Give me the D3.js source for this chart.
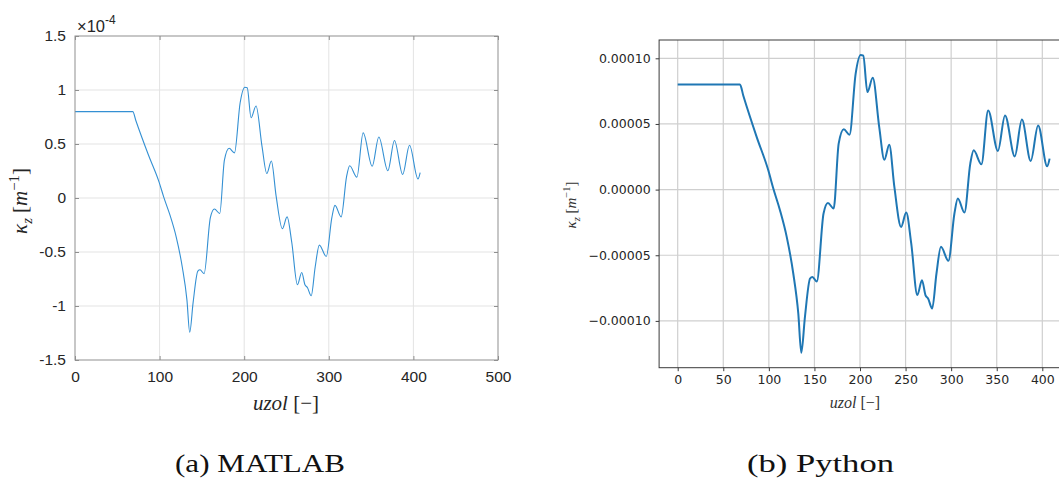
<!DOCTYPE html>
<html>
<head>
<meta charset="utf-8">
<script src="https://cdn.jsdelivr.net/npm/d3@7"></script>
<style>
  body { margin: 0; background: #fff; }
  svg { display: block; }
</style>
</head>
<body>
<script>
// curvature samples, kappa in units of 1e-5 m^-1
const uzol = [0, 68.3, 72, 86.7, 99.4, 104.9, 112.2, 119.6, 126.8, 132.3, 135.6,
  139.6, 145.2, 147.8, 152.6, 160.0, 164.8, 171.1, 176.6, 182.2, 188.5, 195.2,
  200.7, 203.6, 208.1, 214.0, 221.1, 226.7, 232.1, 237.7, 245.1, 250.7, 256.2,
  262.9, 268.0, 271.8, 274.7, 279.2, 283.9, 288.8, 297.0, 303.6, 307.3, 314.6,
  321.0, 324.7, 333.2, 340.6, 351.3, 359.1, 369.8, 377.6, 387.3, 395.4, 405.4, 408.0];
const kappa = [8.0, 8.0, 7.15, 4.0, 1.47, 0.08, -1.57, -3.6, -6.39, -9.43, -12.43,
  -9.69, -6.77, -6.65, -7.0, -1.82, -1.02, -1.44, 3.5, 4.6, 4.18, 8.82,
  10.26, 10.2, 7.43, 8.52, 4.76, 2.27, 3.42, 0.2, -2.84, -1.75, -4.1,
  -8.03, -6.9, -8.03, -8.29, -9.05, -6.39, -4.36, -5.42, -1.82, -0.68, -1.75,
  1.98, 2.99, 1.93, 6.03, 2.94, 5.65, 2.53, 5.33, 2.18, 4.89, 1.77, 2.36];

const matlabXTicks = [0, 100, 200, 300, 400, 500];
const matlabYTicks = [-1.5, -1, -0.5, 0, 0.5, 1, 1.5];
const pyXTicks = [0, 50, 100, 150, 200, 250, 300, 350, 400];
const pyYTicks = [-10, -5, 0, 5, 10];
const pyYLabels = ["\u22120.00010", "\u22120.00005", "0.00000", "0.00005", "0.00010"];
const captions = ["(a) MATLAB", "(b) Python"];

const data = uzol.map((u, i) => ({x: u, k: kappa[i]}));

const svg = d3.select("body").append("svg")
    .attr("width", 1059)
    .attr("height", 481);

// ---------- (a) MATLAB ----------
const mx = d3.scaleLinear().domain([0, 500]).range([75, 498]);
const my = d3.scaleLinear().domain([-1.5, 1.5]).range([360, 36]);  // units of 1e-4

const ma = svg.append("g");

ma.append("g").selectAll("line.gx")
    .data(matlabXTicks.slice(1, -1))
    .join("line")
    .attr("x1", d => mx(d)).attr("x2", d => mx(d))
    .attr("y1", 36).attr("y2", 360)
    .attr("stroke", "#e3e3e3").attr("stroke-width", 1);
ma.append("g").selectAll("line.gy")
    .data(matlabYTicks.slice(1, -1))
    .join("line")
    .attr("x1", 75).attr("x2", 498)
    .attr("y1", d => my(d)).attr("y2", d => my(d))
    .attr("stroke", "#e3e3e3").attr("stroke-width", 1);

ma.append("path")
    .datum(data)
    .attr("fill", "none")
    .attr("stroke", "#3490d3")
    .attr("stroke-width", 1.1)
    .attr("d", d3.line().x(d => mx(d.x)).y(d => my(d.k / 10)).curve(d3.curveMonotoneX));

// box with inward ticks
ma.append("rect")
    .attr("x", 75).attr("y", 36).attr("width", 423).attr("height", 324)
    .attr("fill", "none").attr("stroke", "#8f8f8f").attr("stroke-width", 1);

const mxAxis = ma.append("g").attr("transform", "translate(0,360)")
    .call(d3.axisBottom(mx).tickValues(matlabXTicks).tickSizeInner(-4).tickSizeOuter(0).tickPadding(11));
const mxAxisTop = ma.append("g").attr("transform", "translate(0,36)")
    .call(d3.axisTop(mx).tickValues(matlabXTicks).tickSizeInner(-4).tickSizeOuter(0).tickFormat(""));
const myAxis = ma.append("g").attr("transform", "translate(75,0)")
    .call(d3.axisLeft(my).tickValues(matlabYTicks).tickSizeInner(-4).tickSizeOuter(0).tickPadding(9)
      .tickFormat(d => d === 0 ? "0" : d3.format("")(d).replace("\u2212", "-")));
const myAxisR = ma.append("g").attr("transform", "translate(498,0)")
    .call(d3.axisRight(my).tickValues(matlabYTicks).tickSizeInner(-4).tickSizeOuter(0).tickFormat(""));

[mxAxis, mxAxisTop, myAxis, myAxisR].forEach(g => {
  g.select(".domain").remove();
  g.selectAll("line").attr("stroke", "#8f8f8f");
  g.selectAll("text")
      .attr("font-family", "'Liberation Sans', Arial, sans-serif")
      .attr("font-size", 15.5)
      .attr("fill", "#262626");
});

// exponent label
const expo = ma.append("text")
    .attr("x", 77).attr("y", 32)
    .attr("font-family", "'Liberation Sans', Arial, sans-serif")
    .attr("font-size", 16.5).attr("fill", "#262626");
expo.append("tspan").text("\u00d710");
expo.append("tspan").attr("dy", -8).attr("font-size", 12).text("-4");

// axis titles
function kappaLabel(sel, size) {
  sel.attr("font-family", "'Liberation Serif', 'DejaVu Serif', serif").attr("font-size", size);
  sel.append("tspan").attr("font-style", "italic").text("\u03ba");
  sel.append("tspan").attr("font-style", "italic").attr("font-size", size * 0.7).attr("dy", size * 0.25).text("z");
  sel.append("tspan").attr("dy", -size * 0.25).text(" [");
  sel.append("tspan").attr("font-style", "italic").text("m");
  sel.append("tspan").attr("font-size", size * 0.7).attr("dy", -size * 0.4).text("\u22121");
  sel.append("tspan").attr("dy", size * 0.4).text("]");
}
function uzolLabel(sel, size) {
  sel.attr("font-family", "'Liberation Serif', 'DejaVu Serif', serif").attr("font-size", size);
  sel.append("tspan").attr("font-style", "italic").text("uzol");
  sel.append("tspan").text(" [\u2212]");
}

ma.append("text")
    .attr("transform", "translate(27,201) rotate(-90)")
    .attr("text-anchor", "middle").attr("fill", "#262626")
    .call(kappaLabel, 21);
ma.append("text")
    .attr("x", 286).attr("y", 410)
    .attr("text-anchor", "middle").attr("fill", "#262626")
    .call(uzolLabel, 21);

// ---------- (b) Python ----------
const xExt = d3.extent(uzol), kExt = d3.extent(kappa);
const xPad = (xExt[1] - xExt[0]) * 0.05, kPad = (kExt[1] - kExt[0]) * 0.05;
const px = d3.scaleLinear().domain([xExt[0] - xPad, xExt[1] + xPad])
    .range([677.7 - 0.9115 * xPad, 677.7 + 0.9115 * (xExt[1] + xPad)]);
const py = d3.scaleLinear().domain([kExt[0] - kPad, kExt[1] + kPad]).range([367.7, 40]);
const [pl, pr] = px.range(), [pb, pt] = py.range();

const pa = svg.append("g");

pa.append("g").selectAll("line")
    .data(pyXTicks)
    .join("line")
    .attr("x1", d => px(d)).attr("x2", d => px(d))
    .attr("y1", pt).attr("y2", pb)
    .attr("stroke", "#cfcfcf").attr("stroke-width", 1.2);
pa.append("g").selectAll("line")
    .data(pyYTicks)
    .join("line")
    .attr("x1", pl).attr("x2", pr)
    .attr("y1", d => py(d)).attr("y2", d => py(d))
    .attr("stroke", "#cfcfcf").attr("stroke-width", 1.2);

pa.append("path")
    .datum(data)
    .attr("fill", "none")
    .attr("stroke", "#1f77b4")
    .attr("stroke-width", 2)
    .attr("stroke-linejoin", "round")
    .attr("d", d3.line().x(d => px(d.x)).y(d => py(d.k)).curve(d3.curveMonotoneX));

pa.append("rect")
    .attr("x", pl).attr("y", pt).attr("width", pr - pl).attr("height", pb - pt)
    .attr("fill", "none").attr("stroke", "#3a3a3a").attr("stroke-width", 1);

const pxAxis = pa.append("g").attr("transform", `translate(0,${pb})`)
    .call(d3.axisBottom(px).tickValues(pyXTicks).tickSizeInner(3.5).tickSizeOuter(0).tickPadding(4).tickFormat(d3.format("d")));
const pyAxis = pa.append("g").attr("transform", `translate(${pl},0)`)
    .call(d3.axisLeft(py).tickValues(pyYTicks).tickSizeInner(3.5).tickSizeOuter(0).tickPadding(5)
      .tickFormat((d, i) => pyYLabels[i]));
[pxAxis, pyAxis].forEach(g => {
  g.select(".domain").remove();
  g.selectAll("line").attr("stroke", "#3a3a3a");
  g.selectAll("text")
      .attr("font-family", "'DejaVu Sans', sans-serif")
      .attr("font-size", 12.5)
      .attr("fill", "#262626");
});

pa.append("text")
    .attr("transform", "translate(576,205) rotate(-90)")
    .attr("text-anchor", "middle").attr("fill", "#333")
    .call(kappaLabel, 15);
pa.append("text")
    .attr("x", 855).attr("y", 408)
    .attr("text-anchor", "middle").attr("fill", "#333")
    .call(uzolLabel, 16);

// ---------- captions ----------
svg.selectAll("text.cap")
    .data(captions)
    .join("text")
    .attr("class", "cap")
    .attr("x", (d, i) => i === 0 ? 175 : 747)
    .attr("y", 472)
    .attr("textLength", (d, i) => i === 0 ? 170 : 147)
    .attr("lengthAdjust", "spacingAndGlyphs")
    .attr("font-family", "'Liberation Serif', serif")
    .attr("font-size", 25)
    .attr("fill", "#111")
    .text(d => d);
</script>
</body>
</html>
